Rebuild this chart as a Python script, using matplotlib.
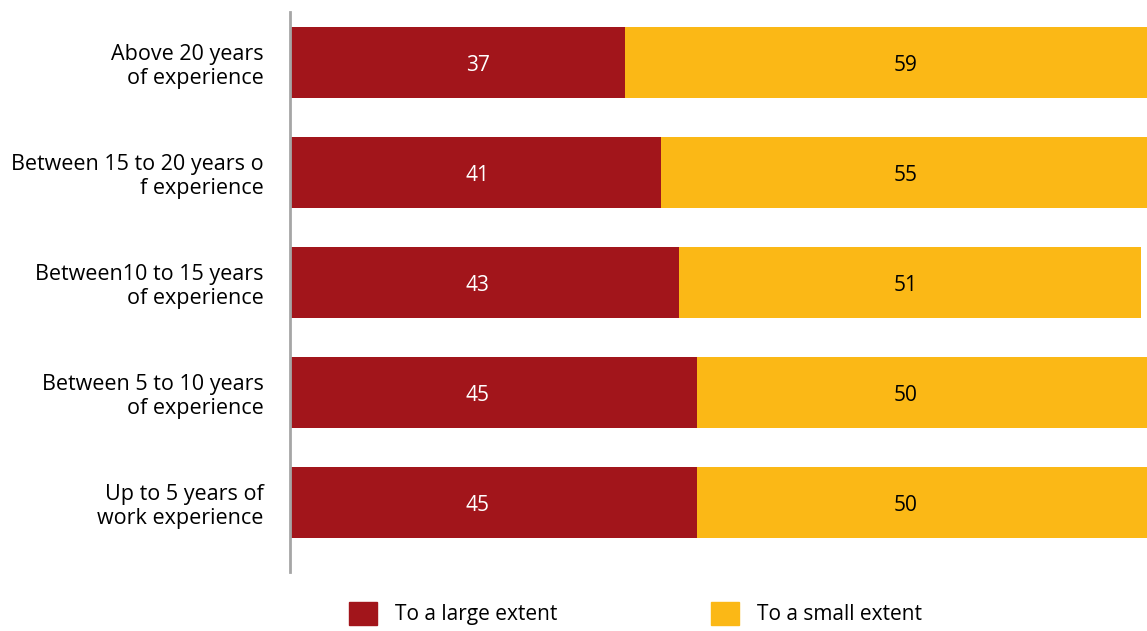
import numpy as np
import matplotlib.pyplot as plt
from matplotlib.patches import Patch

plt.rcParams['font.family'] = ['Open Sans', 'DejaVu Sans']

categories = ["Up to 5 years of\nwork experience",
              "Between 5 to 10 years\nof experience",
              "Between10 to 15 years\nof experience",
              "Between 15 to 20 years o\nf experience",
              "Above 20 years\nof experience"]
large = [45, 45, 43, 41, 37]
small = [50, 50, 51, 55, 59]
series_names = ["To a large extent", "To a small extent"]

red = "#A2151B"
yellow = "#FBB816"

fig = plt.figure(figsize=(11.47, 6.31), dpi=100)
ax = fig.add_axes([290/1147, 59/631, 857/1147, 560/631])

y = np.arange(len(categories))
ax.barh(y, large, height=0.65, color=red)
ax.barh(y, small, left=large, height=0.65, color=yellow)

for i in range(len(categories)):
    ax.text(0.219, i, str(large[i]), transform=ax.get_yaxis_transform(),
            ha="center", va="center_baseline", color="white", fontsize=15)
    ax.text(0.718, i, str(small[i]), transform=ax.get_yaxis_transform(),
            ha="center", va="center_baseline", color="black", fontsize=15)

ax.set_xlim(0, 94.7)
ax.set_ylim(-0.63, 4.46)
ax.set_yticks(y)
ax.set_yticklabels(categories, fontsize=15.5, linespacing=1.15)
ax.tick_params(axis="y", length=0, pad=19)
ax.set_xticks([])
for s in ["top", "right", "bottom"]:
    ax.spines[s].set_visible(False)
ax.spines["left"].set_color("#A6A6A6")
ax.spines["left"].set_linewidth(2)

handles = [Patch(color=red), Patch(color=yellow)]
fig.legend(handles, series_names, loc="lower left", ncol=2,
           bbox_to_anchor=(330/1147, -13/631), frameon=False, fontsize=15,
           handlelength=1.35, handleheight=1.3, handletextpad=0.85,
           columnspacing=7.4)

fig.savefig("out.png", dpi=100)
